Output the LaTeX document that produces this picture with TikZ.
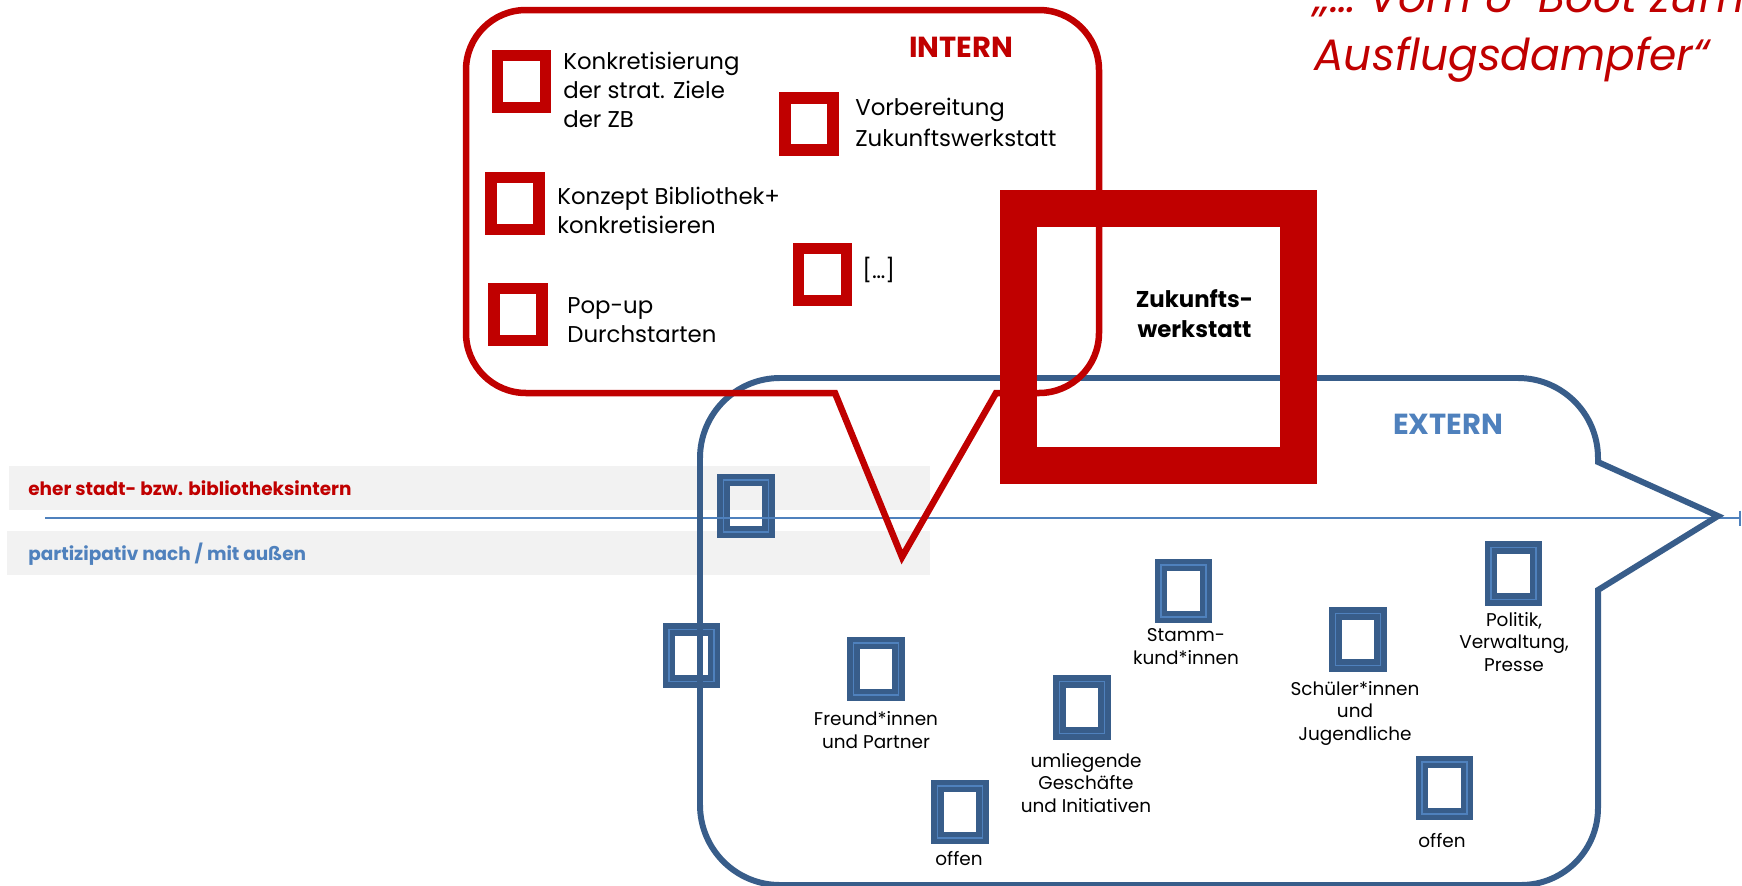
\documentclass[tikz,border=0pt]{standalone}
\usepackage{fontspec}
\setmainfont{Poppins}
\usepackage{xcolor}
\usetikzlibrary{arrows.meta}
\definecolor{zbred}{HTML}{C00000}
\definecolor{zbblue}{HTML}{385D8A}
\definecolor{zblight}{HTML}{4F81BD}
\definecolor{zbgrey}{HTML}{F2F2F2}
\tikzset{
  intern/.style={draw=zbred,line width=6.3pt,minimum width=0.96cm,minimum height=1.04cm,inner sep=0pt},
  extern/.style={draw=zbblue,double=zblight,double distance=0.9pt,line width=3pt,minimum width=0.9cm,minimum height=1.04cm,inner sep=0pt},
  itxt/.style={font=\fontsize{13}{16.5}\selectfont,align=left,anchor=base west,inner sep=0pt},
  etxt/.style={font=\fontsize{10.5}{12.6}\selectfont,align=center,anchor=base,inner sep=0pt},
  bandtxt/.style={font=\bfseries\fontsize{10.5}{12}\selectfont,anchor=base west,inner sep=0pt},
  headtxt/.style={font=\bfseries\fontsize{16.5}{20}\selectfont,anchor=base,inner sep=0pt}
}
\begin{document}
\begin{tikzpicture}[x=0.02cm,y=-0.02cm]
  \useasboundingbox (0,0) rectangle (1742,886);

  \fill[zbgrey] (9,466) rectangle (930,510);
  \fill[zbgrey] (7,531) rectangle (930,575);
  \node[bandtxt,text=zbred] (bi) at (28,495) {eher stadt- bzw. bibliotheksintern};
  \node[bandtxt,text=zblight] (pa) at (28,560) {partizipativ nach / mit außen};

  % EXTERN squares
  \node[extern] (bb) at (746,506) {};
  \node[extern] (br) at (691.5,655.5) {};
  \node[extern] (fr) at (876,669) {};
  \node[extern] (of) at (960,812) {};
  \node[extern] (ul) at (1082,707.5) {};
  \node[extern] (sk) at (1183.5,591) {};
  \node[extern] (sj) at (1358,639.5) {};
  \node[extern] (pv) at (1513.5,573.5) {};
  \node[extern] (or) at (1444.5,788) {};

  \coordinate (al) at (45,518);
  \coordinate (ar) at (1741,518);
  \draw[zblight,line width=1.1pt,-{Bar[width=0.3cm]}] (al) -- (ar);

  % callouts
  \draw[zbblue,line width=3.4pt] (1598,590) -- (1598,808) arc[start angle=0,end angle=90,radius=77]
    -- (780,885) arc[start angle=90,end angle=180,radius=80]
    -- (700,458) arc[start angle=180,end angle=270,radius=80]
    -- (1518,378) arc[start angle=270,end angle=360,radius=80]
    -- (1598,462) -- (1718,516) -- cycle;
  \draw[zbred,line width=3.7pt] (835,393) -- (902,557) -- (996,393)
    -- (1039,393) arc[start angle=90,end angle=0,radius=60]
    -- (1099,70) arc[start angle=0,end angle=-90,radius=60]
    -- (526,10) arc[start angle=-90,end angle=-180,radius=60]
    -- (466,333) arc[start angle=180,end angle=90,radius=60] -- cycle;

  % INTERN squares
  \node[intern] (zl) at (521.5,81.5) {};
  \node[intern] (vb) at (809,124) {};
  \node[intern] (kz) at (515,203.5) {};
  \node[intern] (pu) at (518,314.5) {};
  \node[intern] (et) at (822.5,274.5) {};
  \node[draw=zbred,line width=0.73cm,minimum width=5.61cm,minimum height=5.15cm,inner sep=0pt] (zw) at (1158.5,337) {};

  \node[headtxt,text=zbred] (in) at (961,57) {INTERN};
  \node[headtxt,text=zblight] (ex) at (1448,434) {EXTERN};
  \node[itxt] (zlt) at (563,127) {Konkretisierung\\der strat. Ziele\\der ZB};
  \node[itxt,font=\fontsize{13}{17.6}\selectfont] (vbt) at (855,146) {Vorbereitung\\Zukunftswerkstatt};
  \node[itxt] (kzt) at (557,233) {Konzept Bibliothek+\\konkretisieren};
  \node[itxt] (put) at (567,342) {Pop-up\\Durchstarten};
  \node[itxt] (ett) at (862,278) {[…]};
  \node[font=\bfseries\fontsize{13}{17}\selectfont,align=center,anchor=base,inner sep=0pt] (zwt) at (1194.5,337) {Zukunfts-\\werkstatt};

  \node[etxt] (frt) at (876,748) {Freund*innen\\und Partner};
  \node[etxt] (ult) at (1086,812) {umliegende\\Geschäfte\\und Initiativen};
  \node[etxt] (oft) at (959,865) {offen};
  \node[etxt] (skt) at (1186,664) {Stamm-\\kund*innen};
  \node[etxt] (sjt) at (1355,740) {Schüler*innen\\und\\Jugendliche};
  \node[etxt] (pvt) at (1514,671) {Politik,\\Verwaltung,\\Presse};
  \node[etxt] (ort) at (1442,847) {offen};

  \node[font=\itshape\fontsize{25}{33}\selectfont,text=zbred,align=left,anchor=base west,inner sep=0pt] (ti) at (1314,70) {„… Vom U-Boot zum\\Ausflugsdampfer“};
\end{tikzpicture}
\end{document}
